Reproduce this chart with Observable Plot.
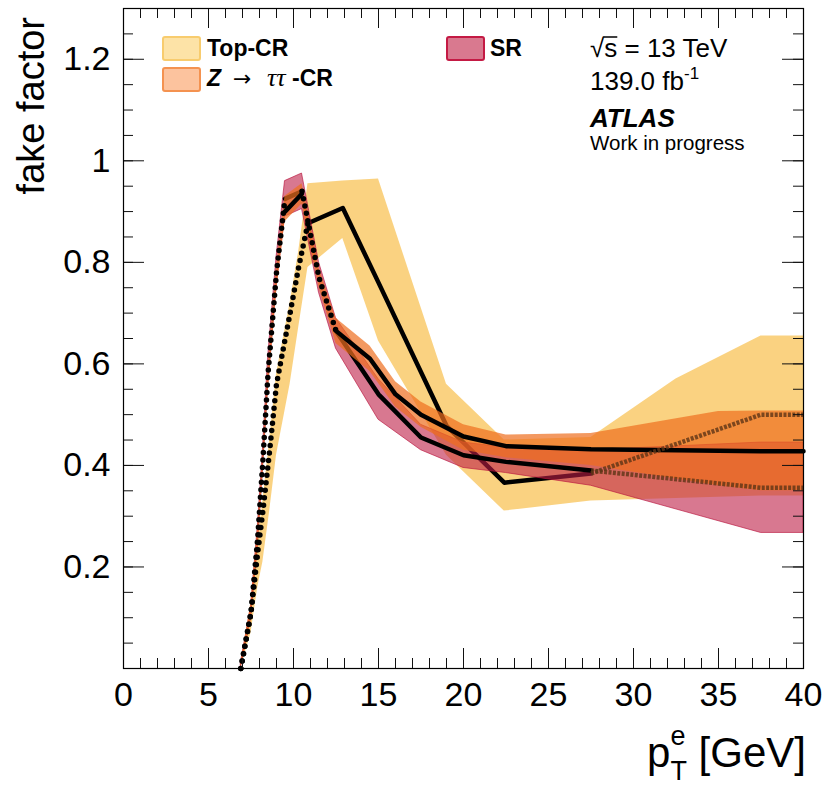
<!DOCTYPE html>
<html>
<head>
<meta charset="utf-8">
<script src="https://cdn.jsdelivr.net/npm/d3@7"></script>
<script src="https://cdn.jsdelivr.net/npm/@observablehq/plot@0.6"></script>
<style>
  html, body { margin: 0; padding: 0; background: #fff; }
  #chart svg { display: block; }
</style>
</head>
<body>
<div id="chart"></div>
<script>
// Electron fake factor versus pT, measured in three regions:
// central value (ff) with its uncertainty band (lo .. hi).

// Top-CR
const topX  = [6.9, 7.5, 7.9, 8.2, 8.6, 9.0, 9.8, 10.3, 10.85, 12.9, 15, 19, 22.4, 27.5, 32.5, 37.5, 40];
const topFF = [0, 0.11, 0.23, 0.31, 0.43, 0.56, 0.70, 0.79, 0.877, 0.907, 0.76, 0.478, 0.366, 0.384, 0.442, 0.50, 0.50];
const topLo = [0, 0.07, 0.16, 0.21, 0.31, 0.42, 0.56, 0.67, 0.79, 0.847, 0.645, 0.42, 0.31, 0.33, 0.335, 0.34, 0.34];
const topHi = [0.005, 0.12, 0.25, 0.33, 0.45, 0.58, 0.72, 0.82, 0.955, 0.96, 0.964, 0.56, 0.45, 0.455, 0.57, 0.655, 0.655];

// SR
const srX  = [6.9, 7.5, 7.9, 8.2, 8.5, 9.0, 9.5, 10.5, 11.5, 12.5, 15, 17.5, 20, 22.5, 27.5, 37.5, 40];
const srFF = [0, 0.11, 0.26, 0.41, 0.58, 0.78, 0.925, 0.94, 0.77, 0.665, 0.54, 0.455, 0.42, 0.407, 0.39, 0.356, 0.356];
const srLo = [0, 0.10, 0.24, 0.39, 0.55, 0.75, 0.89, 0.905, 0.74, 0.63, 0.49, 0.43, 0.395, 0.385, 0.36, 0.267, 0.267];
const srHi = [0.01, 0.12, 0.28, 0.43, 0.61, 0.81, 0.96, 0.975, 0.80, 0.69, 0.57, 0.48, 0.445, 0.435, 0.43, 0.445, 0.445];

// Z -> tautau CR
const zX  = [6.9, 7.5, 7.9, 8.2, 8.5, 9.0, 9.5, 10.5, 11.5, 12.5, 14.5, 16, 17.5, 20, 22.5, 27.5, 35, 37.5, 40];
const zFF = [0, 0.11, 0.25, 0.40, 0.56, 0.76, 0.90, 0.935, 0.77, 0.665, 0.61, 0.54, 0.50, 0.457, 0.438, 0.432, 0.429, 0.428, 0.428];
const zLo = [0, 0.09, 0.23, 0.38, 0.54, 0.74, 0.88, 0.915, 0.75, 0.64, 0.585, 0.515, 0.475, 0.43, 0.415, 0.40, 0.36, 0.35, 0.35];
const zHi = [0.01, 0.13, 0.28, 0.42, 0.59, 0.79, 0.93, 0.955, 0.79, 0.69, 0.635, 0.565, 0.525, 0.48, 0.46, 0.463, 0.506, 0.507, 0.507];

// Axis ticks
const xMajorTicks = [0, 5, 10, 15, 20, 25, 30, 35, 40];
const xMinorTicks = d3.range(0, 41);
const yMajorTicks = [0.2, 0.4, 0.6, 0.8, 1, 1.2];
const yMinorTicks = d3.range(1, 27).map(i => i * 0.05);

const SANS = "'Liberation Sans', Arial, Helvetica, sans-serif";
const SERIF = "'Liberation Serif', 'DejaVu Serif', serif";

const table = (xs, ff, lo, hi) => xs.map((x, i) => ({x, ff: ff[i], lo: lo[i], hi: hi[i]}));
const topRows = table(topX, topFF, topLo, topHi);
const srRows = table(srX, srFF, srLo, srHi);
const zRows = table(zX, zFF, zLo, zHi);

// pieces of a curve between two pT values (inclusive)
const seg = (rows, a, b) => rows.filter(d => d.x >= a && d.x <= b);

const colors = {
  top: "#f9c762",
  sr: "#be1e46",
  z: "#ee6e1e"
};

const solid = {x: "x", y: "ff", stroke: "black", strokeWidth: 4.5};
const dotted = {x: "x", y: "ff", stroke: "black", strokeWidth: 5.5, strokeDasharray: "0 7.5", strokeLinecap: "round"};
const dashed = {x: "x", y: "ff", stroke: "#5e3516", strokeWidth: 4.5, strokeDasharray: "3 1.4", strokeLinecap: "butt", strokeOpacity: 0.8};

const frameH = 660, frameW = 680;

const chart = Plot.plot({
  width: 827,
  height: 785,
  marginLeft: 123,
  marginRight: 24,
  marginTop: 8,
  marginBottom: 117,
  x: {domain: [0, 40]},
  y: {domain: [0, 1.3]},
  style: {fontFamily: SANS, fontSize: "34px", background: "white", color: "black", overflow: "visible"},
  marks: [
    // Top-CR band and its central line (drawn first, the other bands lie over it)
    Plot.areaY(topRows, {x: "x", y1: "lo", y2: "hi", fill: colors.top, fillOpacity: 0.8}),
    Plot.line(seg(topRows, 10.85, 27.5), solid),

    // SR band and line
    Plot.areaY(srRows, {x: "x", y1: "lo", y2: "hi", fill: colors.sr, fillOpacity: 0.6, stroke: "#b8143e", strokeWidth: 0.8, strokeOpacity: 0.8}),
    Plot.line(seg(srRows, 9.5, 10.5), solid),
    Plot.line(seg(srRows, 12.5, 27.5), solid),

    // Z -> tautau band and line
    Plot.areaY(zRows, {x: "x", y1: "lo", y2: "hi", fill: colors.z, fillOpacity: 0.7}),
    Plot.line(seg(zRows, 9.5, 10.5), solid),
    Plot.line(seg(zRows, 12.5, 40), solid),

    // turn-on region drawn dotted
    Plot.line(seg(srRows, 6.9, 9.5), dotted),
    Plot.line(seg(srRows, 10.5, 12.5), dotted),
    Plot.line(seg(topRows, 6.9, 10.85), dotted),

    // high-pT tails lying under the Z band
    Plot.line(seg(topRows, 27.5, 40), dashed),
    Plot.line(seg(srRows, 27.5, 40), dashed),

    // inward ticks on all four sides
    Plot.ruleX(xMinorTicks, {stroke: "#111", strokeWidth: 1, insetTop: frameH - 10}),
    Plot.ruleX(xMajorTicks, {stroke: "#111", strokeWidth: 1, insetTop: frameH - 20}),
    Plot.ruleX(xMinorTicks, {stroke: "#111", strokeWidth: 1, insetBottom: frameH - 10}),
    Plot.ruleX(xMajorTicks, {stroke: "#111", strokeWidth: 1, insetBottom: frameH - 20}),
    Plot.ruleY(yMinorTicks, {stroke: "#111", strokeWidth: 1, insetRight: frameW - 10}),
    Plot.ruleY(yMajorTicks, {stroke: "#111", strokeWidth: 1, insetRight: frameW - 21}),
    Plot.ruleY(yMinorTicks, {stroke: "#111", strokeWidth: 1, insetLeft: frameW - 10}),
    Plot.ruleY(yMajorTicks, {stroke: "#111", strokeWidth: 1, insetLeft: frameW - 21}),
    Plot.frame({stroke: "black", strokeWidth: 1.2}),

    Plot.axisX({ticks: xMajorTicks, tickSize: 0, tickPadding: 13, tickFormat: d => String(d), label: null, fontSize: 34}),
    Plot.axisY({ticks: yMajorTicks, tickSize: 0, tickPadding: 13, tickFormat: d => String(d), label: null, fontSize: 34})
  ]
});

document.getElementById("chart").appendChild(chart);

// ---- titles, legend and labels ----
const svg = d3.select(chart);
const ann = svg.append("g")
  .attr("font-family", SANS)
  .attr("fill", "black")
  .attr("text-anchor", "start");

// y title
ann.append("text")
  .attr("transform", "translate(44,17) rotate(-90)")
  .attr("text-anchor", "end")
  .attr("font-size", 38)
  .text("fake factor");

// x title: p_T^e [GeV]
const xt = ann.append("text")
  .attr("x", 806).attr("y", 767)
  .attr("text-anchor", "end")
  .attr("font-size", 42);
xt.append("tspan").text("p");
xt.append("tspan").attr("font-size", 27).attr("dy", -22).text("e");
xt.append("tspan").attr("font-size", 27).attr("dx", -15).attr("dy", 35).text("T");
xt.append("tspan").attr("dy", -13).text(" [GeV]");

// legend
const legend = [
  {key: "top", fill: "#fde3a7", stroke: "#f8cc6e", x: 163, y: 37},
  {key: "z", fill: "#fcc39e", stroke: "#f49250", x: 163, y: 68},
  {key: "sr", fill: "#d9798f", stroke: "#c41a44", x: 447, y: 37}
];
for (const item of legend) {
  ann.append("rect")
    .attr("x", item.x).attr("y", item.y)
    .attr("width", 37).attr("height", 23)
    .attr("rx", 2)
    .attr("fill", item.fill)
    .attr("stroke", item.stroke)
    .attr("stroke-width", 2);
}
ann.append("text").attr("x", 207).attr("y", 56)
  .attr("font-size", 23).attr("font-weight", "bold").text("Top-CR");
const zl = ann.append("text").attr("x", 207).attr("y", 86)
  .attr("font-size", 23).attr("font-weight", "bold");
zl.append("tspan").attr("font-style", "italic").text("Z");
zl.append("tspan").attr("x", 233).attr("font-weight", "normal").attr("font-family", "'DejaVu Sans', sans-serif").attr("font-size", 22).text("\u2192");
zl.append("tspan").attr("x", 267).attr("font-weight", "normal").attr("font-style", "italic").attr("font-family", SERIF).attr("font-size", 26).text("\u03c4\u03c4");
zl.append("tspan").attr("x", 292).text("-CR");
ann.append("text").attr("x", 490).attr("y", 56)
  .attr("font-size", 23).attr("font-weight", "bold").text("SR");

// energy, luminosity, experiment
const rs = ann.append("text").attr("x", 590).attr("y", 57).attr("font-size", 26);
rs.append("tspan").text("\u221a");
rs.append("tspan").attr("class", "s").text("s");
rs.append("tspan").text(" = 13 TeV");
const sBox = rs.select("tspan.s").node().getBBox();
ann.append("line")
  .attr("x1", sBox.x - 1).attr("x2", sBox.x + sBox.width)
  .attr("y1", sBox.y + 4).attr("y2", sBox.y + 4)
  .attr("stroke", "black").attr("stroke-width", 1.5);
const lumi = ann.append("text").attr("x", 590).attr("y", 90).attr("font-size", 26);
lumi.append("tspan").text("139.0 fb");
lumi.append("tspan").attr("font-size", 17).attr("dy", -11).text("-1");
ann.append("text").attr("x", 590).attr("y", 127)
  .attr("font-size", 26).attr("font-weight", "bold").attr("font-style", "italic").text("ATLAS");
ann.append("text").attr("x", 590).attr("y", 150)
  .attr("font-size", 20.5).text("Work in progress");
</script>
</body>
</html>
